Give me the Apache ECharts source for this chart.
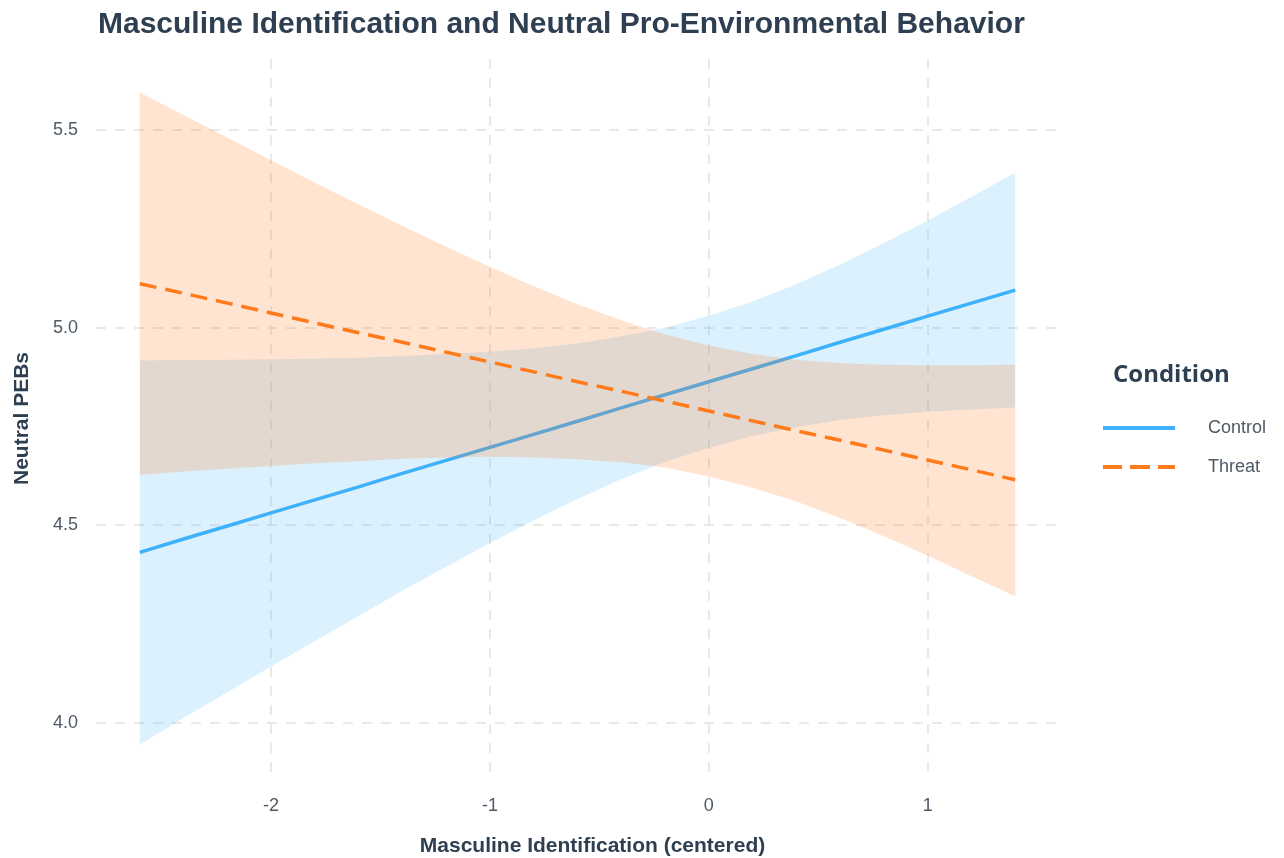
<!DOCTYPE html>
<html>
<head>
<meta charset="utf-8">
<script src="https://cdn.jsdelivr.net/npm/echarts@6/dist/echarts.min.js"></script>
<style>
  html, body { margin: 0; padding: 0; background: #ffffff; }
  #chart { width: 1284px; height: 858px; }
</style>
</head>
<body>
<div id="chart"></div>
<script>
  // values (fit line and 95% band per condition)
  var xValues = [-2.6, -2.4, -2.2, -2.0, -1.8, -1.6, -1.4, -1.2, -1.0, -0.8, -0.6,
                 -0.4, -0.2, 0.0, 0.2, 0.4, 0.6, 0.8, 1.0, 1.2, 1.4];

  var controlFit  = [4.431, 4.465, 4.498, 4.531, 4.564, 4.597, 4.631, 4.664, 4.697, 4.730, 4.763,
                     4.797, 4.830, 4.863, 4.896, 4.929, 4.963, 4.996, 5.029, 5.062, 5.095];
  var controlLow  = [3.945, 4.012, 4.077, 4.142, 4.207, 4.270, 4.334, 4.395, 4.455, 4.512, 4.566,
                     4.616, 4.660, 4.696, 4.726, 4.748, 4.766, 4.778, 4.787, 4.793, 4.798];
  var controlHigh = [4.917, 4.918, 4.919, 4.920, 4.921, 4.924, 4.928, 4.933, 4.939, 4.948, 4.960,
                     4.978, 5.000, 5.030, 5.066, 5.110, 5.160, 5.214, 5.271, 5.331, 5.392];

  var threatFit   = [5.111, 5.087, 5.062, 5.037, 5.012, 4.987, 4.963, 4.938, 4.913, 4.888, 4.863,
                     4.839, 4.814, 4.789, 4.764, 4.739, 4.715, 4.690, 4.665, 4.640, 4.615];
  var threatLow   = [4.627, 4.636, 4.643, 4.650, 4.657, 4.662, 4.668, 4.671, 4.673, 4.671, 4.667,
                     4.659, 4.646, 4.623, 4.595, 4.560, 4.518, 4.472, 4.423, 4.371, 4.320];
  var threatHigh  = [5.595, 5.538, 5.481, 5.424, 5.367, 5.312, 5.258, 5.205, 5.154, 5.105, 5.059,
                     5.019, 4.983, 4.955, 4.933, 4.919, 4.910, 4.906, 4.905, 4.905, 4.906];

  var xTicks = [-2, -1, 0, 1];
  var yTicks = [4.0, 4.5, 5.0, 5.5];

  var BLUE = '#3FB1FA';
  var ORANGE = '#FF7A1A';
  var INK = '#2E3F52';
  var GREY = '#4E5A66';
  var font = "'Liberation Sans', Arial, sans-serif";

  function pairs(ys) {
    return xValues.map(function (x, i) { return [x, ys[i]]; });
  }

  // one polygon per band, drawn on the first item through the axis scales
  function bandSeries(name, low, high, color, z) {
    return {
      name: name + ' band',
      type: 'custom',
      z: z,
      silent: true,
      data: xValues.map(function (x, i) { return [x, low[i], high[i]]; }),
      encode: { x: 0, y: [1, 2] },
      renderItem: function (params, api) {
        if (params.dataIndex !== 0) return null;
        var pts = [];
        for (var i = 0; i < xValues.length; i++) pts.push(api.coord([xValues[i], high[i]]));
        for (var j = xValues.length - 1; j >= 0; j--) pts.push(api.coord([xValues[j], low[j]]));
        return {
          type: 'polygon',
          shape: { points: pts },
          style: { fill: color }
        };
      }
    };
  }

  var gridLine = { show: true, lineStyle: { color: '#E2E2E2', width: 1.5, type: [10, 9] } };

  var chart = echarts.init(document.getElementById('chart'));
  chart.setOption({
    backgroundColor: '#ffffff',
    animation: false,
    textStyle: { fontFamily: font },
    title: [
      {
        text: 'Masculine Identification and Neutral Pro-Environmental Behavior',
        left: 93, top: 5,
        textStyle: { fontSize: 30, fontWeight: 'bold', color: INK, fontFamily: font }
      },
      {
        text: 'Condition',
        left: 1108, top: 358,
        textStyle: { fontSize: 24, fontWeight: 'bold', color: INK, fontFamily: "'Open Sans', sans-serif" }
      }
    ],
    legend: {
      orient: 'vertical',
      left: 1098, top: 414,
      itemWidth: 72, itemHeight: 4, itemGap: 21,
      data: [
        { name: 'Control', icon: 'path://M0,0h72v4h-72z' },
        { name: 'Threat', icon: 'path://M0,0h19v4h-19zM27,0h20v4h-20zM55,0h17v4h-17z' }
      ],
      textStyle: { fontSize: 18, color: GREY, padding: [0, 0, 0, 28] }
    },
    grid: { left: 96, right: 225, top: 59, bottom: 80, outerBoundsMode: 'none' },
    xAxis: {
      type: 'value',
      min: -2.8, max: 1.6,
      name: 'Masculine Identification (centered)',
      nameLocation: 'middle', nameGap: 58,
      nameTextStyle: { fontSize: 21, fontWeight: 'bold', color: INK, padding: [0, 0, 0, 30] },
      axisLine: { show: false },
      axisTick: { show: false, customValues: xTicks },
      axisLabel: { customValues: xTicks, fontSize: 18, color: GREY, margin: 19 },
      splitLine: gridLine
    },
    yAxis: {
      type: 'value',
      min: 3.86, max: 5.68,
      name: 'Neutral PEBs',
      nameLocation: 'middle', nameGap: 63,
      nameTextStyle: { fontSize: 21, fontWeight: 'bold', color: INK },
      axisLine: { show: false },
      axisTick: { show: false, customValues: yTicks },
      axisLabel: {
        customValues: yTicks, fontSize: 18, color: GREY, margin: 18,
        formatter: function (v) { return v.toFixed(1); }
      },
      splitLine: gridLine
    },
    series: [
      bandSeries('Control', controlLow, controlHigh, 'rgba(63,177,250,0.18)', 1),
      {
        name: 'Control',
        type: 'line',
        z: 2,
        data: pairs(controlFit),
        showSymbol: false, symbol: 'none',
        lineStyle: { color: BLUE, width: 3.5 },
        itemStyle: { color: BLUE }
      },
      bandSeries('Threat', threatLow, threatHigh, 'rgba(255,122,26,0.2)', 3),
      {
        name: 'Threat',
        type: 'line',
        z: 4,
        data: pairs(threatFit),
        showSymbol: false, symbol: 'none',
        lineStyle: { color: ORANGE, width: 3.5, type: [17, 9] },
        itemStyle: { color: ORANGE }
      }
    ]
  });
</script>
</body>
</html>
